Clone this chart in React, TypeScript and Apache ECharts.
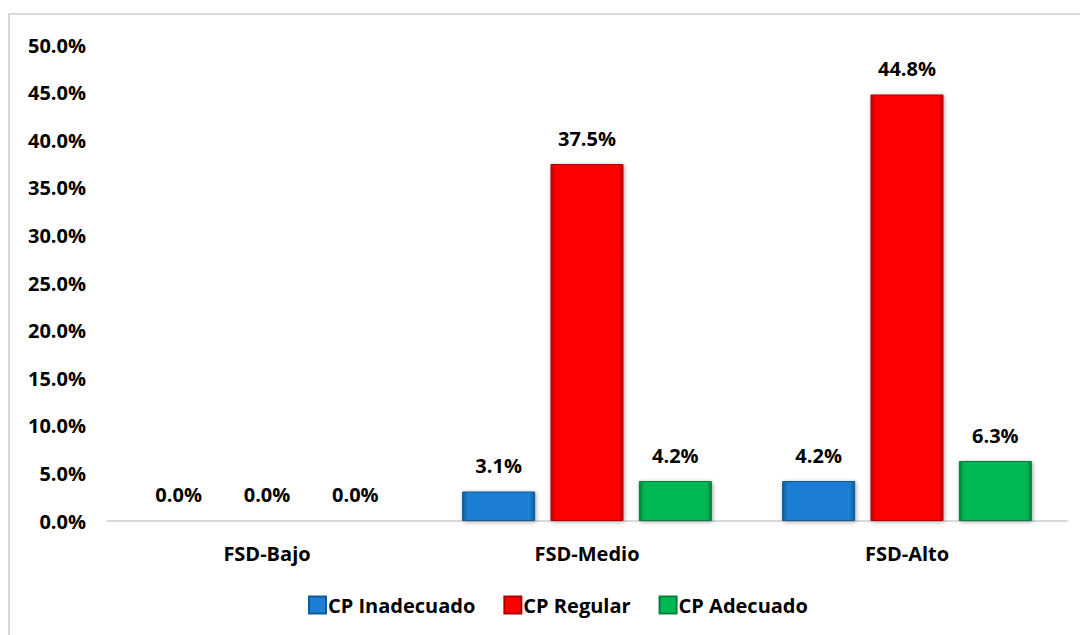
import React, { useEffect, useRef } from "react";
import * as echarts from "echarts";

const categories = ["FSD-Bajo", "FSD-Medio", "FSD-Alto"];
const seriesNames = ["CP Inadecuado", "CP Regular", "CP Adecuado"];
const inadecuado = [0.0, 3.1, 4.2];
const regular = [0.0, 37.5, 44.8];
const adecuado = [0.0, 4.2, 6.3];
const yMax = 50;
const yInterval = 5;

const FONT = "'Open Sans', 'Liberation Sans', sans-serif";
const FS = 20;

function bevel(edge: string, mid: string) {
  return new echarts.graphic.LinearGradient(0, 0, 1, 0, [
    { offset: 0, color: edge },
    { offset: 0.07, color: mid },
    { offset: 0.93, color: mid },
    { offset: 1, color: edge },
  ]);
}

export default function App() {
  const ref = useRef<HTMLDivElement>(null);
  useEffect(() => {
    if (!ref.current) return;
    const chart = echarts.init(ref.current, undefined, { renderer: "svg" });
    const colors = [
      { edge: "#0f5a9c", mid: "#1b7fd4", border: "#125a95" },
      { edge: "#c00000", mid: "#ff0000", border: "#b00000" },
      { edge: "#00853a", mid: "#00b952", border: "#00803a" },
    ];
    const datas = [inadecuado, regular, adecuado];
    chart.setOption({
      animation: false,
      textStyle: { fontFamily: FONT },
      grid: { left: 107, right: 13, top: 45, bottom: 114, containLabel: false },
      legend: {
        top: 590,
        left: 303,
        itemWidth: 17,
        itemHeight: 17,
        itemGap: 28,
        icon: "rect",
        textStyle: { fontFamily: FONT, fontWeight: "bold", fontSize: FS, color: "#000", padding: [0, 0, 0, -3] },
        data: seriesNames,
      },
      xAxis: {
        type: "category",
        data: categories,
        axisLine: { lineStyle: { color: "#d9d9d9", width: 2 } },
        axisTick: { show: false },
        axisLabel: { fontFamily: FONT, fontWeight: "bold", fontSize: FS, color: "#000", margin: 22 },
      },
      yAxis: {
        type: "value",
        min: 0,
        max: yMax,
        interval: yInterval,
        axisLine: { show: false },
        axisTick: { show: false },
        splitLine: { show: false },
        axisLabel: {
          fontFamily: FONT,
          fontWeight: "bold",
          fontSize: FS,
          color: "#000",
          margin: 21,
          formatter: (v: number) => v.toFixed(1) + "%",
        },
      },
      series: seriesNames.map((name, i) => ({
        name,
        type: "bar",
        data: datas[i],
        barWidth: 73,
        barGap: "21%",
        itemStyle: {
          color: bevel(colors[i].edge, colors[i].mid),
          borderColor: colors[i].border,
          borderWidth: 1,
          shadowColor: "rgba(0,0,0,0.35)",
          shadowBlur: 4,
          shadowOffsetX: 1,
          shadowOffsetY: 1,
        },
        label: {
          show: true,
          position: "top",
          distance: 16,
          fontFamily: FONT,
          fontWeight: "bold",
          fontSize: FS,
          color: "#000",
          formatter: (p: any) => Number(p.value).toFixed(1) + "%",
        },
      })),
    });
    return () => chart.dispose();
  }, []);
  return (
    <div style={{ position: "fixed", left: 0, top: 0, width: 1080, height: 635, background: "#fff", overflow: "hidden" }}>
      <div
        style={{
          position: "absolute",
          left: 8,
          top: 13,
          width: 1200,
          height: 800,
          border: "2px solid #d9d9d9",
          boxSizing: "border-box",
        }}
      />
      <div ref={ref} style={{ position: "absolute", left: 0, top: 0, width: 1080, height: 635 }} />
    </div>
  );
}
